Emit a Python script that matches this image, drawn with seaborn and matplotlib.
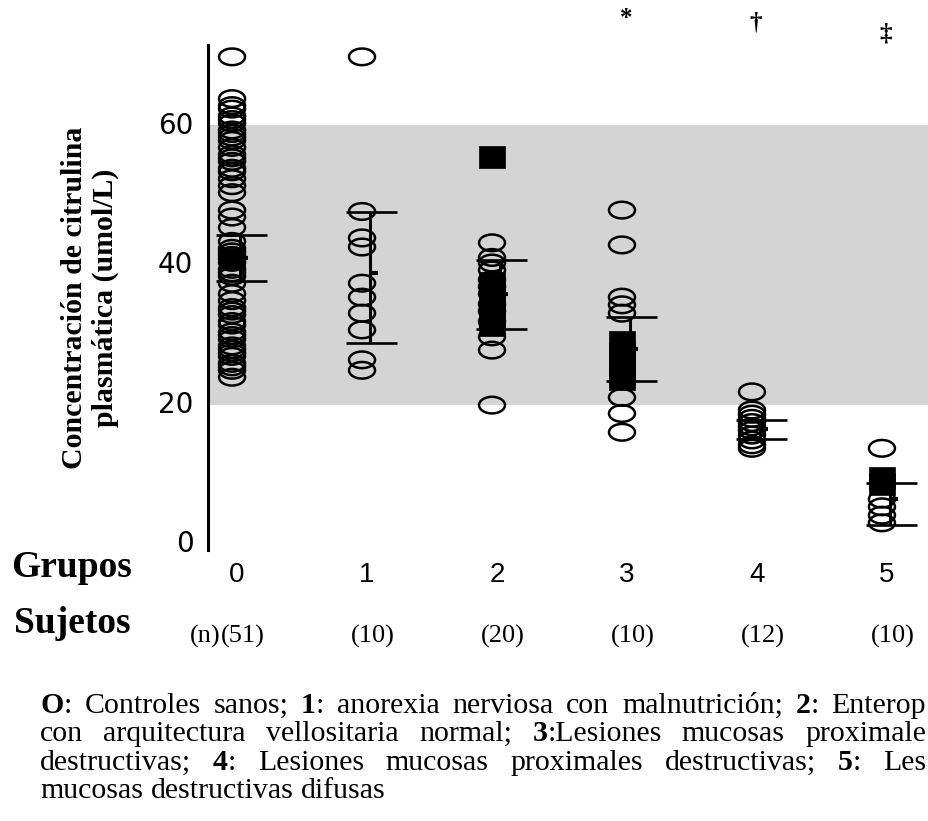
import numpy as np
import pandas as pd
import matplotlib
matplotlib.use("Agg")
import matplotlib.pyplot as plt
import seaborn as sns
from matplotlib.path import Path
from matplotlib.transforms import ScaledTranslation, blended_transform_factory

# ---------------- data ----------------
groups = [0, 1, 2, 3, 4, 5]
group_labels = ["0", "1", "2", "3", "4", "5"]
subject_counts = ["(51)", "(10)", "(20)", "(10)", "(12)", "(10)"]

g0_open = [69.5, 63.5, 62.5, 62, 61, 60.5, 60, 59, 58.5, 58, 57.5, 56.5, 55.5, 55,
           54.5, 53.5, 53, 52, 51, 50, 47.5, 46.5, 45, 43, 42, 41.5, 41, 40.5, 40,
           39, 38.5, 38, 37, 35.5, 34.5, 33.5, 33, 32.5, 31.5, 31, 30, 29.5, 29, 28,
           27.5, 27, 26.5, 25.5, 25, 24.5, 23.5]
g0_filled = [40.5]
g1_open = [69.5, 47.3, 43.5, 42.2, 37.0, 35.0, 32.7, 30.3, 26.0, 24.5]
g1_filled = []
g2_open = [42.8, 40.7, 39.9, 38.9, 37.5, 36.5, 35.5, 34.0, 33.0, 31.5, 29.3, 27.4, 19.5]
g2_filled = [55.1, 37.0, 34.5, 33.5, 32.5, 31.8, 31.0]
g3_open = [47.5, 42.5, 35.0, 33.9, 32.7, 20.6, 18.3, 15.6]
g3_filled = [28.5, 27.0, 25.5, 24.0, 23.2]
g4_open = [21.4, 18.8, 18.2, 17.6, 17.0, 16.4, 15.9, 15.2, 14.5, 13.8, 13.3]
g4_filled = []
g5_open = [13.3, 6.0, 4.9, 3.7, 2.6]
g5_filled = [9.0, 8.2]

err_high = [43.9, 47.2, 40.4, 32.2, 17.3, 8.3]
err_low = [37.3, 28.4, 30.4, 22.9, 14.7, 2.3]
group_means = [40.6, 38.4, 35.4, 27.5, 16.0, 6.0]

normal_low, normal_high = 19.5, 59.7

sig_groups = [3, 4, 5]
sig_marks = ["*", "\u2020", "\u2021"]
sig_heights = [75.0, 74.3, 72.8]

ylabel_text = "Concentración de citrulina\nplasmática (umol/L)"
row_title_1 = "Grupos"
row_title_2 = "Sujetos"
count_prefix = "(n)"
caption_lines = [
    "O: Controles sanos; 1: anorexia nerviosa con malnutrición; 2: Enterop",
    "con arquitectura vellositaria normal; 3:Lesiones mucosas proximale",
    "destructivas; 4: Lesiones mucosas proximales destructivas; 5: Les",
    "mucosas destructivas difusas",
]
caption_justified = [True, True, True, False]

# ---------------- tables ----------------
open_lists = [g0_open, g1_open, g2_open, g3_open, g4_open, g5_open]
filled_lists = [g0_filled, g1_filled, g2_filled, g3_filled, g4_filled, g5_filled]
df_open = pd.DataFrame([(g, v) for g, vals in zip(groups, open_lists) for v in vals],
                       columns=["grupo", "citrulina"])
df_filled = pd.DataFrame([(g, v) for g, vals in zip(groups, filled_lists) for v in vals],
                         columns=["grupo", "citrulina"])

# ---------------- figure ----------------
sns.set_theme(style="white")
plt.rcParams["font.family"] = ["DejaVu Sans"]
SERIF = ["Liberation Serif", "DejaVu Serif"]
SANS = ["Liberation Sans", "DejaVu Sans"]

W, H = 929, 821
fig = plt.figure(figsize=(W / 100, H / 100), dpi=100)
fig.patch.set_facecolor("white")
ax = fig.add_axes([208 / W, (H - 550) / H, (W - 208) / W, 505 / H])
ax.set_facecolor("white")

ax.set_xlim(-0.185, 5.362)
ax.set_ylim(-1.3, 71.2)

ax.axhspan(normal_low, normal_high, color="#d4d4d4", zorder=0, lw=0)

t = np.linspace(0, 2 * np.pi, 64)
ellipse = Path(np.column_stack([np.cos(t), 0.64 * np.sin(t)]), closed=True)
rect = Path([(-1.15, -1), (1.15, -1), (1.15, 1), (-1.15, 1), (-1.15, -1)], closed=True)

sns.scatterplot(data=df_open, x="grupo", y="citrulina", ax=ax, marker=ellipse,
                s=350, color="black", facecolor="none", edgecolor="black",
                linewidth=1.8, zorder=3, legend=False)
sns.scatterplot(data=df_filled, x="grupo", y="citrulina", ax=ax, marker=rect,
                s=340, color="black", facecolor="black", edgecolor="black",
                linewidth=0.5, zorder=4, legend=False)

# mean / dispersion bars (offset right of the columns)
gx = np.array(groups, dtype=float)
ax.vlines(gx + 0.06, err_low, err_high, color="black", lw=2.2, zorder=5)
ax.hlines(err_high, gx - 0.12, gx + 0.27, color="black", lw=1.9, zorder=5)
ax.hlines(err_low, gx - 0.12, gx + 0.27, color="black", lw=1.9, zorder=5)
ax.hlines(group_means, gx + 0.06, gx + 0.125, color="black", lw=3.0, zorder=5)

# significance marks above the plot
for g, m, h in zip(sig_groups, sig_marks, sig_heights):
    ax.text(g + 0.03, h, m, ha="center", va="center", fontsize=18,
            fontweight="bold", family=SERIF, color="black", clip_on=False)

# spines / ticks
for side in ["top", "right", "bottom"]:
    ax.spines[side].set_visible(False)
ax.spines["left"].set_color("black")
ax.spines["left"].set_linewidth(2.2)

ax.set_yticks([0, 20, 40, 60])
ax.set_yticklabels(["0", "20", "40", "60"])
ax.tick_params(axis="y", direction="out", length=7.5, width=1.6, color="black",
               pad=3, labelsize=20, labelcolor="black")
for lab in ax.get_yticklabels():
    lab.set_family(["DejaVu Sans"])

ax.set_xticks(groups)
ax.set_xticklabels(group_labels)
ax.tick_params(axis="x", length=0, pad=9, labelsize=20, labelcolor="black")
off = ScaledTranslation(5 / 100, 0, fig.dpi_scale_trans)
for lab in ax.get_xticklabels():
    lab.set_family(SANS)
    lab.set_transform(lab.get_transform() + off)
ax.set_xlabel("")

ax.set_ylabel(ylabel_text, family=SERIF, fontweight="bold", fontsize=21.5,
              linespacing=1.2, color="black", va="center", ha="center")
ax.yaxis.set_label_coords((90 - 208) / 721, 0.5)

# row titles and subject counts
fig.text(11 / W, (H - 577) / H, row_title_1, family=SERIF, fontweight="bold",
         fontsize=27, ha="left", va="baseline", color="black")
fig.text(14 / W, (H - 633) / H, row_title_2, family=SERIF, fontweight="bold",
         fontsize=27, ha="left", va="baseline", color="black")

cnt_tr = blended_transform_factory(ax.transData, fig.transFigure) + \
    ScaledTranslation(11 / 100, 0, fig.dpi_scale_trans)
for g, c in zip(groups, subject_counts):
    ax.text(g, (H - 643) / H, c, transform=cnt_tr, family=SERIF, fontsize=19,
            ha="center", va="baseline", color="black")
ax.text(0, (H - 643) / H, count_prefix,
        transform=cnt_tr + ScaledTranslation(-23 / 100, 0, fig.dpi_scale_trans),
        family=SERIF, fontsize=19, ha="right", va="baseline", color="black")

# caption, placed word by word (justified lines)
fig.canvas.draw()
renderer = fig.canvas.get_renderer()
cap_fs = 21.5
space_px = 0.25 * cap_fs * 100 / 72
bold_heads = set("O012345")
x_left, x_right = 40, 926
baselines = [713, 741, 770, 798]


def word_segments(word):
    if len(word) > 1 and word[0] in bold_heads and word[1] == ":":
        return [(word[0], True), (word[1:], False)]
    return [(word, False)]


for line, just, yb in zip(caption_lines, caption_justified, baselines):
    words = line.split(" ")
    word_items = []
    for w in words:
        segs = []
        wsum = 0.0
        for s, b in word_segments(w):
            txt = fig.text(0, (H - yb) / H, s, family=SERIF, fontsize=cap_fs,
                           fontweight="bold" if b else "normal", ha="left",
                           va="baseline", color="black")
            wd = txt.get_window_extent(renderer).width
            segs.append((txt, wd))
            wsum += wd
        word_items.append((segs, wsum))
    total = sum(wi[1] for wi in word_items)
    if just and len(word_items) > 1:
        gap = (x_right - x_left - total) / (len(word_items) - 1)
    else:
        gap = space_px
    x = x_left
    for segs, wsum in word_items:
        xx = x
        for txt, wd in segs:
            txt.set_x(xx / W)
            xx += wd
        x += wsum + gap

fig.savefig("out.png", dpi=100, facecolor="white")
